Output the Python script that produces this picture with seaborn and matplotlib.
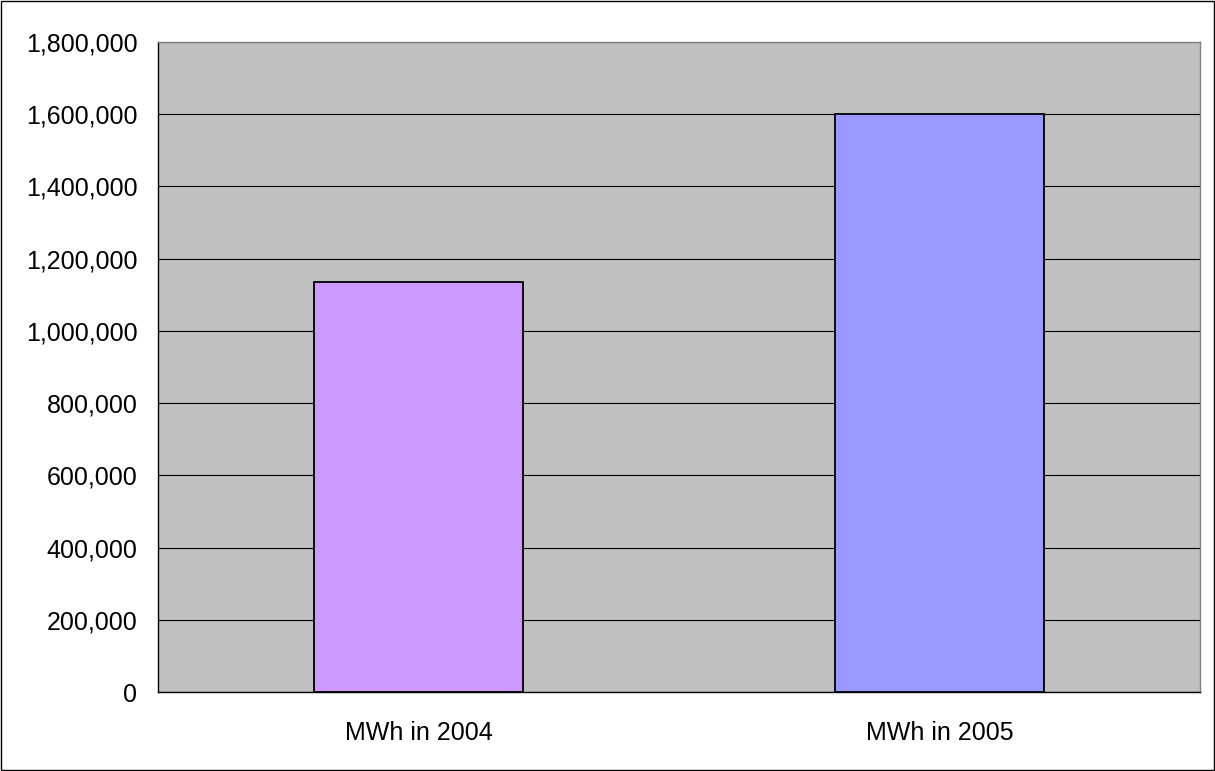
import matplotlib
matplotlib.use("Agg")
import matplotlib.pyplot as plt
from matplotlib.patches import Rectangle
from matplotlib.ticker import FuncFormatter, MultipleLocator
import pandas as pd
import seaborn as sns

CATEGORIES = ["MWh in 2004", "MWh in 2005"]
VALUES = [1135000, 1600000]
BAR_COLORS = ["#CC99FF", "#9999FF"]
Y_MAX = 1800000
Y_STEP = 200000


def main():
    sns.set_style("white")
    plt.rcParams["font.family"] = ["Liberation Sans", "DejaVu Sans"]

    df = pd.DataFrame({"category": CATEGORIES, "value": VALUES})

    fig = plt.figure(figsize=(12.15, 7.71), dpi=100)
    ax = fig.add_axes([158 / 1215, 1 - 692 / 771, 1042 / 1215, 650 / 771])
    ax.set_facecolor("#C0C0C0")

    sns.barplot(data=df, x="category", y="value", hue="category",
                palette=BAR_COLORS, width=0.4, edgecolor="black",
                linewidth=1.3, saturation=1, legend=False, ax=ax, zorder=3)

    ax.set_ylim(0, Y_MAX)
    ax.set_xlim(-0.5, len(CATEGORIES) - 0.5)
    ax.yaxis.set_major_locator(MultipleLocator(Y_STEP))
    ax.yaxis.set_major_formatter(FuncFormatter(lambda v, p: f"{int(v):,}"))
    ax.yaxis.grid(True, color="black", linewidth=0.8)
    ax.set_axisbelow(True)

    # category labels without marks, boundary ticks pointing down
    ax.set_xticks(range(len(CATEGORIES)))
    ax.set_xticks([i - 0.5 for i in range(len(CATEGORIES) + 1)], minor=True)
    ax.tick_params(axis="x", which="major", length=0, pad=21, labelsize=18,
                   labelcolor="black")
    ax.tick_params(axis="x", which="minor", length=5.8, width=1,
                   direction="out", color="black")
    ax.tick_params(axis="y", length=5.8, width=1, direction="out",
                   color="black", labelsize=18, pad=9, labelcolor="black")
    ax.set_xlabel("")
    ax.set_ylabel("")

    for side in ["left", "bottom"]:
        ax.spines[side].set_color("black")
        ax.spines[side].set_linewidth(1)
    for side in ["top", "right"]:
        ax.spines[side].set_color("#808080")
        ax.spines[side].set_linewidth(1)

    fig.patches.append(Rectangle((0.0005, 0.0008), 0.999, 0.998,
                                 transform=fig.transFigure, fill=False,
                                 edgecolor="black", linewidth=1))

    fig.savefig("out.png", dpi=100)
    plt.close(fig)


if __name__ == "__main__":
    main()
